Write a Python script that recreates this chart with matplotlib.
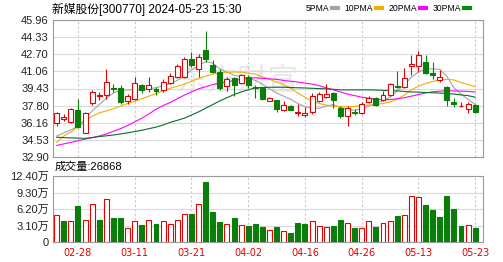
import matplotlib
matplotlib.use('Agg')
import matplotlib.pyplot as plt
from matplotlib.lines import Line2D
import numpy as np

# datos (precio en yuanes, volumen en 万手)
fechas = ['02-23', '02-26', '02-27', '02-28', '02-29',
          '03-01', '03-04', '03-05', '03-06', '03-07', '03-08', '03-11', '03-12', '03-13', '03-14',
          '03-15', '03-18', '03-19', '03-20', '03-21', '03-22', '03-25', '03-26', '03-27', '03-28', '03-29',
          '04-01', '04-02', '04-03', '04-08', '04-09', '04-10', '04-11', '04-12', '04-15', '04-16',
          '04-17', '04-18', '04-19', '04-22', '04-23', '04-24', '04-25', '04-26', '04-29', '04-30',
          '05-06', '05-07', '05-08', '05-09', '05-10', '05-13', '05-14', '05-15', '05-16', '05-17',
          '05-20', '05-21', '05-22', '05-23']

apertura = [36.14, 36.55, 36.27, 37.38, 35.22, 38.02, 38.75, 38.81, 39.5, 39.45,
            38.2, 38.4, 39.8, 39.35, 39.35, 39.3, 39.95, 40.5, 40.55, 42.2,
            41.3, 43.1, 41.7, 40.98, 39.65, 40.4, 39.92, 40.5, 39.55, 39.45,
            38.25, 38.3, 37.4, 37.8, 37.1, 36.95, 37.15, 38.25, 38.62, 39.0,
            37.55, 36.8, 37.15, 37.1, 38.15, 38.5, 38.3, 38.8, 39.65, 39.55,
            41.55, 41.55, 42.0, 40.9, 40.2, 39.55, 38.1, 37.75, 37.45, 37.9]
cierre = [37.09, 36.7, 37.45, 35.79, 37.1, 39.1, 38.85, 40.08, 39.4, 38.15,
          38.7, 39.92, 39.3, 39.75, 39.15, 40.05, 40.6, 41.55, 42.2, 41.65,
          42.4, 42.2, 41.0, 39.45, 40.3, 39.8, 40.72, 39.8, 39.45, 38.4,
          38.55, 37.45, 37.85, 37.4, 37.2, 37.05, 38.7, 38.9, 38.95, 38.35,
          36.8, 37.6, 37.1, 37.95, 38.55, 37.85, 38.8, 39.85, 39.55, 40.4,
          41.75, 42.6, 40.9, 40.7, 40.55, 38.35, 38.0, 37.8, 38.0, 37.2]
maximo = [37.2, 37.0, 37.55, 38.4, 37.2, 39.29, 39.1, 41.26, 39.9, 39.75,
          38.95, 40.5, 39.9, 40.55, 39.6, 40.3, 40.9, 41.8, 42.4, 42.95,
          42.7, 44.95, 42.1, 41.3, 40.5, 40.55, 40.85, 40.7, 39.8, 39.55,
          38.6, 38.35, 38.2, 37.85, 38.0, 37.7, 39.0, 39.05, 39.9, 39.1,
          37.75, 37.8, 37.45, 38.1, 38.7, 38.65, 39.2, 39.95, 41.1, 41.35,
          42.6, 43.0, 42.6, 42.0, 41.2, 39.65, 38.5, 38.15, 38.1, 37.95]
minimo = [35.9, 36.3, 36.14, 35.63, 35.2, 37.86, 38.35, 38.4, 39.05, 38.0,
          37.95, 38.33, 38.97, 39.13, 38.8, 39.1, 39.85, 40.4, 40.45, 41.5,
          40.55, 42.0, 40.9, 39.3, 39.2, 38.7, 39.85, 39.45, 38.55, 38.3,
          38.2, 37.15, 37.3, 37.35, 36.8, 36.7, 37.0, 38.1, 38.55, 37.6,
          36.6, 35.9, 36.9, 37.0, 38.05, 37.75, 38.2, 38.75, 39.45, 39.45,
          40.7, 41.0, 40.85, 40.3, 40.05, 37.8, 37.65, 37.7, 37.05, 37.1]

ma5 = [34.9, 35.2, 35.5, 35.8, 36.5, 37.3, 37.9, 38.5, 39.0, 39.3,
       39.3, 39.3, 39.35, 39.4, 39.5, 39.7, 39.9, 40.2, 40.6, 41.2,
       41.6, 42.0, 41.85, 41.3, 41.0, 40.7, 40.55, 40.4, 40.2, 39.85,
       39.4, 39.0, 38.7, 38.4, 38.0, 37.7, 37.55, 37.55, 37.75, 37.9,
       37.6, 37.45, 37.35, 37.5, 37.75, 38.0, 38.25, 38.6, 39.2, 39.8,
       40.5, 41.0, 41.3, 41.3, 41.25, 40.6, 39.5, 38.9, 38.4, 37.9]
ma10 = [34.3, 34.9, 35.3, 35.75, 36.3, 36.8, 37.1, 37.3, 37.5, 37.75,
        38.0, 38.2, 38.45, 38.7, 38.95, 39.2, 39.45, 39.65, 39.85, 40.1,
        40.4, 40.6, 40.8, 40.9, 40.95, 41.0, 41.0, 40.9, 40.8, 40.55,
        40.3, 40.05, 39.8, 39.45, 39.0, 38.6, 38.2, 38.0, 37.85, 37.75,
        37.7, 37.7, 37.72, 37.8, 37.85, 37.9, 38.0, 38.15, 38.4, 38.8,
        39.3, 39.65, 39.9, 40.1, 40.25, 40.3, 40.25, 40.0, 39.8, 39.6]
ma20 = [34.0, 34.15, 34.3, 34.45, 34.6, 34.75, 34.9, 35.1, 35.35, 35.6,
        35.9, 36.25, 36.6, 37.0, 37.45, 37.8, 38.1, 38.45, 38.8, 39.1,
        39.4, 39.6, 39.8, 39.95, 40.05, 40.2, 40.3, 40.4, 40.45, 40.4,
        40.35, 40.3, 40.2, 40.12, 40.05, 39.95, 39.85, 39.7, 39.5, 39.3,
        39.1, 38.9, 38.75, 38.6, 38.5, 38.42, 38.35, 38.38, 38.45, 38.55,
        38.7, 38.85, 39.0, 39.12, 39.18, 39.2, 39.2, 39.18, 39.15, 39.1]
ma30 = [34.78, 34.75, 34.72, 34.7, 34.68, 34.75, 34.85, 34.92, 35.0, 35.1,
        35.2, 35.32, 35.45, 35.6, 35.75, 35.95, 36.2, 36.4, 36.6, 36.9,
        37.2, 37.55, 37.9, 38.25, 38.55, 38.85, 39.1, 39.3, 39.5, 39.52,
        39.55, 39.55, 39.55, 39.52, 39.5, 39.48, 39.45, 39.42, 39.4, 39.35,
        39.3, 39.3, 39.3, 39.3, 39.3, 39.28, 39.25, 39.22, 39.2, 39.15,
        39.1, 39.08, 39.05, 39.02, 39.0, 38.95, 38.9, 38.82, 38.75, 38.6]

volumen = [5.0, 3.95, 3.95, 6.8, 4.1, 7.1, 4.1, 8.15, 4.6, 4.45,
           2.65, 3.95, 3.15, 4.1, 3.35, 3.95, 3.35, 4.1, 5.35, 5.3,
           7.1, 11.35, 5.55, 3.75, 3.35, 4.5, 3.15, 3.0, 3.35, 2.76,
           2.22, 2.76, 2.13, 1.63, 3.63, 3.38, 3.95, 3.0, 2.76, 3.0,
           4.14, 3.63, 2.69, 2.69, 3.95, 2.76, 3.63, 3.95, 4.89, 5.07,
           8.7, 8.4, 6.95, 6.0, 4.64, 8.7, 6.2, 3.0, 3.2, 2.6868]

etiquetas_precio = ['45.96', '44.33', '42.70', '41.06', '39.43', '37.80', '36.16', '34.53', '32.90']
etiquetas_vol = ['0', '3.10万', '6.20万', '9.30万', '12.40万']
valores_vol = [0, 3.10, 6.20, 9.30, 12.40]
fechas_eje = ['02-28', '03-11', '03-21', '04-02', '04-16', '04-26', '05-13', '05-23']

rojo = '#e60000'
verde = '#0a7d0a'
fuentes = ['Liberation Sans', 'Noto Sans CJK SC']

o = np.array(apertura)
c = np.array(cierre)
x = np.arange(len(fechas))
sube = c >= o
col = np.where(sube, rojo, verde)
relleno = np.where(sube, 'white', verde)
vol_sube = np.r_[True, c[1:] >= c[:-1]]

fig = plt.figure(figsize=(5.03, 2.62), dpi=100)
ax = fig.add_axes([53/503, 105/262, 430/503, 137/262])
ax2 = fig.add_axes([53/503, 20/262, 430/503, 66/262])

ticks_x = [fechas.index(f) for f in fechas_eje]
for a in (ax, ax2):
    a.set_xlim(-0.52, 60.1)
    a.set_xticks(ticks_x)
    a.grid(axis='x', color='#c8c8c8', lw=0.8, ls=(0, (2, 2)), zorder=0)
    a.grid(axis='y', color='#dadada', lw=0.8, zorder=0)
    a.tick_params(length=0, pad=3, labelsize=8, labelcolor='#222222')
    for s in a.spines.values():
        s.set_color('#9a9a9a')
        s.set_linewidth(0.8)

# velas
pos = [float(v) for v in etiquetas_precio]
ax.set_ylim(min(pos), max(pos))
ax.set_yticks(pos)
ax.set_yticklabels(etiquetas_precio, family=fuentes)
ax.set_xticklabels([])
ax.text(0.43, 0.55, '东方财富', transform=ax.transAxes, fontsize=22, color='#e8e8e8',
        family=fuentes, ha='center', va='center', style='italic', zorder=1)

ax.plot(x, ma5, color='#a3a3a3', lw=0.8, zorder=2)
ax.plot(x, ma10, color='#f0b000', lw=0.8, zorder=2)
ax.plot(x, ma20, color='#ff00ff', lw=0.8, zorder=2)
ax.plot(x, ma30, color='#0b6b2a', lw=0.8, zorder=2)
ax.vlines(x, minimo, maximo, colors=col, lw=0.8, zorder=3)
ax.bar(x, np.maximum(np.abs(c - o), 0.03), width=0.7, bottom=np.minimum(o, c),
       color=relleno, edgecolor=col, lw=0.8, zorder=4)

# volumen
ax2.bar(x, volumen, width=0.7, color=np.where(vol_sube, 'white', verde),
        edgecolor=np.where(vol_sube, rojo, verde), lw=0.8, zorder=3)
ax2.set_ylim(0, 12.4)
ax2.set_yticks(valores_vol)
ax2.set_yticklabels(etiquetas_vol, family=fuentes)
ax2.set_xticklabels(fechas_eje, color=rojo, fontsize=7, family='DejaVu Sans')
ax2.tick_params(axis='x', pad=4)

fig.text(52/503, 1 - 9/262, '新媒股份[300770] 2024-05-23 15:30', fontsize=8.5,
         family=fuentes, va='center', ha='left')
fig.text(55/503, 1 - 167/262, '成交量:%d' % round(volumen[-1] * 10000), fontsize=8,
         family=fuentes, va='center', ha='left')

manijas = [Line2D([], [], color=cc, lw=3) for cc in ['#a3a3a3', '#f0b000', '#ff00ff', '#0a8a0a']]
fig.legend(manijas, ['5PMA', '10PMA', '20PMA', '30PMA'], ncol=4, markerfirst=False,
           loc='center right', bbox_to_anchor=(474/503, 1 - 8.5/262), frameon=False,
           prop={'family': 'Liberation Sans', 'size': 6.2}, handlelength=0.7,
           handletextpad=0.3, columnspacing=0.8, borderpad=0)

fig.savefig('out.png', dpi=100)
